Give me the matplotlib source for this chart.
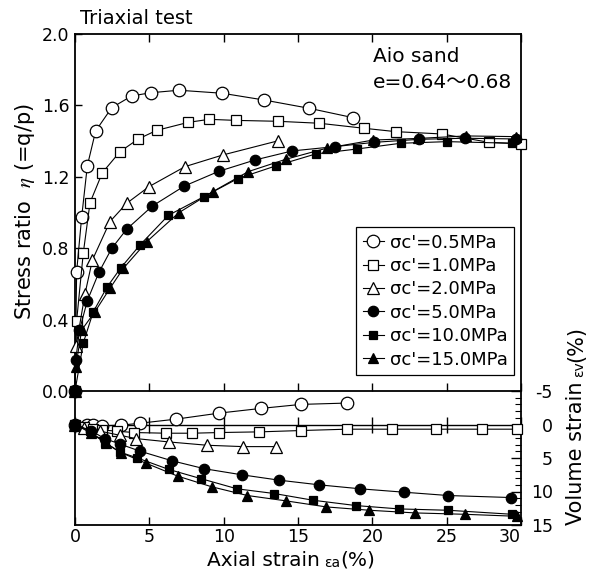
import matplotlib
matplotlib.use('Agg')
import matplotlib.pyplot as plt
from matplotlib.text import Annotation
from matplotlib.ticker import MultipleLocator, NullFormatter, FixedLocator

plt.rcParams['font.family'] = ['DejaVu Sans', 'Noto Sans CJK JP']
plt.rcParams['mathtext.fontset'] = 'stix'
plt.rcParams['axes.unicode_minus'] = False

# ---------------- data ----------------
labels = ["σc'=0.5MPa", "σc'=1.0MPa", "σc'=2.0MPa",
          "σc'=5.0MPa", "σc'=10.0MPa", "σc'=15.0MPa"]

# stress ratio eta vs axial strain
s1_x = [0, 0.11, 0.45, 0.83, 1.39, 2.47, 3.81, 5.11, 6.99, 9.91, 12.73, 15.74, 18.72]
s1_y = [0, 0.668, 0.976, 1.262, 1.457, 1.587, 1.653, 1.671, 1.685, 1.668, 1.630, 1.584, 1.531]
s2_x = [0, 0.11, 0.56, 1.01, 1.84, 3.03, 4.26, 5.49, 7.62, 9.03, 10.83, 13.63, 16.43, 19.43,
        21.57, 24.66, 27.86, 29.97]
s2_y = [0, 0.394, 0.775, 1.055, 1.223, 1.341, 1.412, 1.460, 1.505, 1.522, 1.516, 1.511, 1.500,
        1.472, 1.453, 1.440, 1.393, 1.385]
s3_x = [0, 0.07, 0.67, 1.17, 2.35, 3.47, 4.98, 7.40, 9.93, 13.63]
s3_y = [0, 0.25, 0.543, 0.734, 0.949, 1.051, 1.145, 1.257, 1.322, 1.401]
s4_x = [0, 0.05, 0.3, 0.83, 1.61, 2.47, 3.47, 5.20, 7.35, 9.68, 12.10, 14.61, 17.48, 20.11,
        23.16, 26.23, 29.64]
s4_y = [0, 0.174, 0.34, 0.506, 0.665, 0.799, 0.906, 1.036, 1.148, 1.231, 1.294, 1.345, 1.369,
        1.393, 1.410, 1.416, 1.412]
s5_x = [0, 0.56, 1.23, 2.17, 3.08, 4.37, 6.28, 8.67, 10.95, 13.5, 16.19, 18.99, 21.92, 25.04, 29.37]
s5_y = [0, 0.27, 0.444, 0.584, 0.69, 0.818, 0.984, 1.089, 1.19, 1.261, 1.328, 1.356, 1.388,
        1.397, 1.388]
s6_x = [0, 0.05, 0.45, 1.34, 2.35, 3.25, 4.82, 6.97, 9.25, 11.65, 14.17, 16.92, 20.06, 23.1,
        26.29, 29.64]
s6_y = [0, 0.136, 0.342, 0.444, 0.575, 0.687, 0.836, 0.998, 1.116, 1.229, 1.298, 1.360, 1.406,
        1.415, 1.429, 1.425]

# volume strain vs axial strain
v1_x = [0, 0.8, 1.2, 1.8, 3.1, 4.4, 6.8, 9.7, 12.5, 15.2, 18.3]
v1_y = [0, 0.0, 0.1, 0.2, 0.1, -0.2, -0.8, -1.7, -2.4, -3.0, -3.2]
v2_x = [0, 0.6, 1.2, 1.8, 2.8, 4.0, 6.1, 7.9, 9.7, 12.4, 15.2, 18.3, 21.3, 24.3, 27.4, 29.7]
v2_y = [0, 0.3, 0.6, 0.8, 1.0, 1.2, 1.3, 1.3, 1.2, 1.1, 0.9, 0.7, 0.7, 0.7, 0.7, 0.7]
v3_x = [0, 0.6, 1.7, 3.0, 4.1, 6.3, 8.9, 11.3, 13.5]
v3_y = [0, 0.5, 1.0, 1.6, 2.1, 2.6, 3.1, 3.3, 3.3]
v4_x = [0, 1.05, 2.0, 3.0, 4.4, 6.5, 8.7, 11.2, 13.7, 16.4, 19.2, 22.1, 25.1, 29.3]
v4_y = [0, 0.9, 2.1, 2.9, 4.0, 5.4, 6.6, 7.5, 8.3, 9.0, 9.6, 10.1, 10.6, 10.9]
v5_x = [0, 1.0, 2.0, 3.0, 4.2, 6.3, 8.5, 10.9, 13.4, 16.0, 18.9, 21.8, 25.1, 29.4]
v5_y = [0, 1.0, 2.7, 4.1, 5.0, 6.7, 8.1, 9.6, 10.3, 11.3, 12.1, 12.6, 12.8, 13.4]
v6_x = [0, 1.1, 2.1, 3.1, 4.8, 6.9, 9.2, 11.6, 14.2, 16.9, 19.8, 22.9, 26.2, 29.7]
v6_y = [0, 1.3, 2.8, 4.2, 5.8, 7.7, 9.3, 10.6, 11.4, 12.3, 12.8, 13.2, 13.4, 13.7]

x_ticks = [0, 5, 10, 15, 20, 25, 30]
eta_ticks = [0.0, 0.4, 0.8, 1.2, 1.6, 2.0]
vol_ticks = [-5, 0, 5, 10, 15]

# ---------------- styles ----------------
styles = [dict(marker='o', ms=9.0, mfc='white'),
          dict(marker='s', ms=6.5, mfc='white'),
          dict(marker='^', ms=8.0, mfc='white'),
          dict(marker='o', ms=7.5, mfc='black'),
          dict(marker='s', ms=6.0, mfc='black'),
          dict(marker='^', ms=7.5, mfc='black')]

W, H = 590, 569
fig = plt.figure(figsize=(W / 100, H / 100), dpi=100)


def fx(px):
    return px / W


def fy(py):
    return 1 - py / H


L, R, T, MID, B = 75, 521, 34, 391, 525
ax1 = fig.add_axes([fx(L), fy(MID), fx(R) - fx(L), fy(T) - fy(MID)])
ax2 = fig.add_axes([fx(L), fy(B), fx(R) - fx(L), fy(MID) - fy(B)], sharex=ax1)
ax2.patch.set_visible(False)

upper = [(s1_x, s1_y), (s2_x, s2_y), (s3_x, s3_y), (s4_x, s4_y), (s5_x, s5_y), (s6_x, s6_y)]
lower = [(v1_x, v1_y), (v2_x, v2_y), (v3_x, v3_y), (v4_x, v4_y), (v5_x, v5_y), (v6_x, v6_y)]

for (x, y), st, lab in zip(upper, styles, labels):
    ax1.plot(x, y, color='black', lw=0.8, mec='black', mew=0.9, clip_on=False,
             zorder=3, label=lab, **st)
for (x, y), st in zip(lower, styles):
    ax2.plot(x, y, color='black', lw=0.8, mec='black', mew=0.9, clip_on=False,
             zorder=3, **st)

TS = 12.5
LS = 14.5
for ax in (ax1, ax2):
    for sp in ax.spines.values():
        sp.set_linewidth(1.3)

# upper axes
ax1.set_xlim(0, 30)
ax1.set_ylim(0, 2.0)
ax1.set_xticks(x_ticks)
ax1.set_yticks(eta_ticks)
ax1.set_yticklabels([f"{v:.1f}" for v in eta_ticks])
ax1.tick_params(axis='x', direction='in', length=6, width=1, top=True, bottom=True,
                labelbottom=False)
ax1.tick_params(axis='y', direction='in', length=5, width=1, left=True, right=False,
                labelsize=TS, pad=4)

# lower axes
ax2.set_ylim(15, -5)
ax2.spines['top'].set_visible(False)
ax2.yaxis.tick_right()
ax2.set_yticks(vol_ticks)
ax2.yaxis.set_minor_locator(MultipleLocator(1))
ax2.tick_params(axis='y', which='major', direction='in', length=7, width=1,
                left=False, right=True, labelright=True, labelleft=False,
                labelsize=TS, pad=23)
ax2.tick_params(axis='y', which='minor', direction='in', length=4, width=0.8,
                left=False, right=True)
ax2.tick_params(axis='x', direction='in', length=6, width=1, top=False, bottom=True,
                labelsize=TS, pad=2.2)
for t in ax2.get_yticklabels():
    t.set_horizontalalignment('right')
xl = ax2.get_xticklabels()
xl[-1].set_horizontalalignment('right')

# zero line of volume strain with crossing ticks
sec = ax2.secondary_xaxis(0, transform=ax2.transData)
sec.xaxis.set_major_locator(FixedLocator(x_ticks))
sec.xaxis.set_major_formatter(NullFormatter())
sec.tick_params(axis='x', direction='inout', length=12, width=1)
for sp in sec.spines.values():
    sp.set_linewidth(1.0)

# legend
leg = ax1.legend(loc='lower right', bbox_to_anchor=(0.984, 0.045), fontsize=13,
                 frameon=True, fancybox=False, edgecolor='black', framealpha=1,
                 handlelength=1.2, handletextpad=0.3, labelspacing=0.3,
                 borderpad=0.35, borderaxespad=0)
leg.get_frame().set_linewidth(0.9)

# texts
fig.text(fx(80), fy(24), 'Triaxial test', fontsize=14, ha='left', va='baseline')
ax1.text(0.668, 0.922, 'Aio sand', transform=ax1.transAxes, fontsize=14.5,
         ha='left', va='baseline')
ax1.text(0.668, 0.849, 'e=0.64～0.68', transform=ax1.transAxes, fontsize=14.5,
         ha='left', va='baseline')

fig.text(fx(25), fy(212), 'Stress ratio  $\\eta$ (=q/p)', fontsize=15, rotation=90,
         ha='center', va='center')

# x label: Axial strain εa(%)
t1 = fig.text(fx(207), fy(566), 'Axial strain', fontsize=LS, ha='left', va='baseline')
t2 = Annotation('εa', xy=(1, 0), xycoords=t1, xytext=(3, 0), textcoords='offset points',
                fontsize=10, ha='left', va='bottom')
fig.add_artist(t2)
t3 = Annotation('(%)', xy=(1, 0), xycoords=t2, xytext=(0, 0), textcoords='offset points',
                fontsize=LS, ha='left', va='bottom')
fig.add_artist(t3)

# right y label: Volume strain εv(%)
r1 = fig.text(fx(576), fy(525), 'Volume strain', fontsize=15, rotation=90,
              ha='center', va='bottom')
r2 = Annotation('εv', xy=(1, 1), xycoords=r1, xytext=(0, 3), textcoords='offset points',
                fontsize=10, rotation=90, ha='right', va='bottom')
fig.add_artist(r2)
r3 = Annotation('(%)', xy=(1, 1), xycoords=r2, xytext=(0, 0), textcoords='offset points',
                fontsize=15, rotation=90, ha='right', va='bottom')
fig.add_artist(r3)

fig.savefig('out.png', dpi=100)
